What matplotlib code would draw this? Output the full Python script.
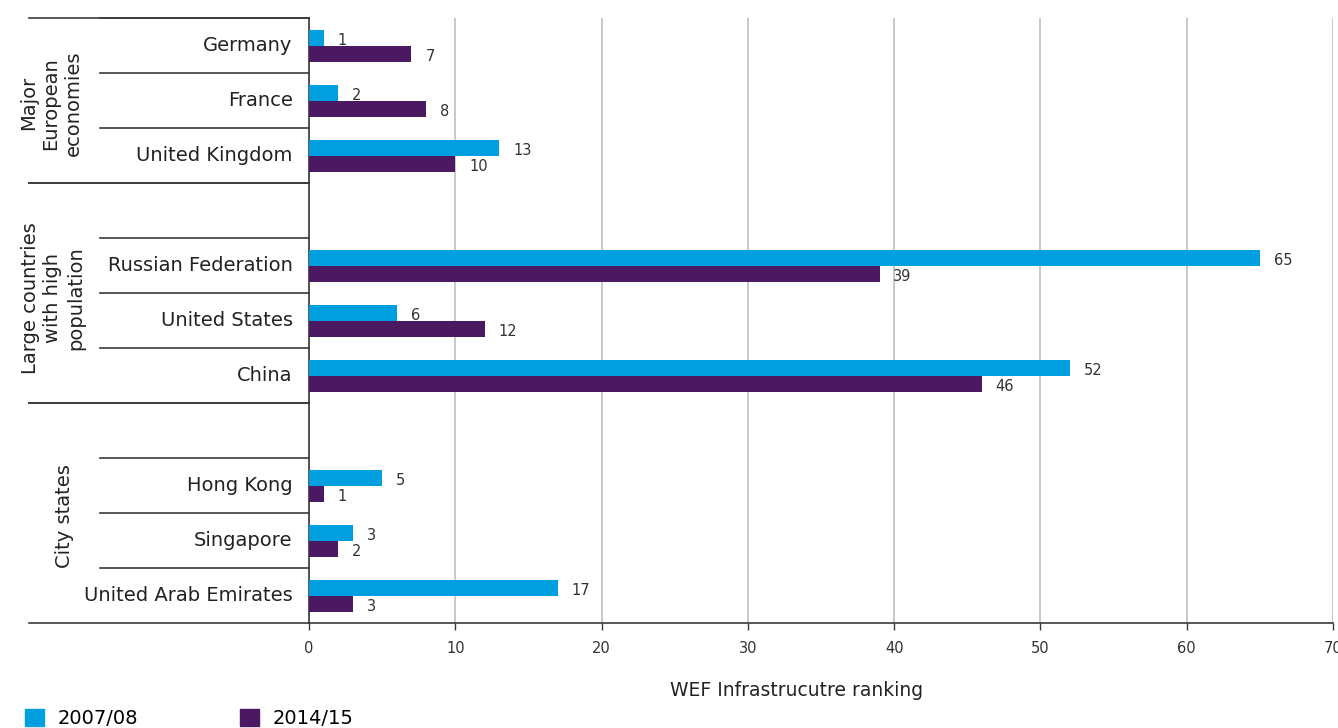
import matplotlib
matplotlib.use("Agg")
import matplotlib.pyplot as plt
import matplotlib.transforms as mtransforms
from matplotlib.patches import Patch

plt.rcParams['font.family'] = ['DejaVu Sans']

# rankings (lower is better)
countries = ["Germany", "France", "United Kingdom",
             "Russian Federation", "United States", "China",
             "Hong Kong", "Singapore", "United Arab Emirates"]
rank_2007 = [1, 2, 13, 65, 6, 52, 5, 3, 17]
rank_2014 = [7, 8, 10, 39, 12, 46, 1, 2, 3]
groups = ["Major\nEuropean\neconomies", "Large countries\nwith high\npopulation", "City states"]
group_sizes = [3, 3, 3]
series_names = ["2007/08", "2014/15"]

blue = "#009fe0"
purple = "#4b1862"
line_col = "#3a3a3a"
grid_col = "#c4c4c4"

fig = plt.figure(figsize=(13.38, 7.28), dpi=100)
ax = fig.add_axes([309 / 1338, 105 / 728, 1024 / 1338, 605 / 728])

# slot layout: each group gets an empty slot before it (except the first)
slots = []
group_bounds = []
pos = 0
for gi, n in enumerate(group_sizes):
    if gi > 0:
        pos += 1
    start = pos
    for k in range(n):
        slots.append(pos)
        pos += 1
    group_bounds.append((start - (1 if gi > 0 else 0), pos))
n_slots = pos

bh = 0.29
yb = [s - 0.135 for s in slots]
yp = [s + 0.155 for s in slots]
ax.barh(yb, rank_2007, height=bh, color=blue, zorder=3)
ax.barh(yp, rank_2014, height=bh, color=purple, zorder=3)

for y, v in zip(yb, rank_2007):
    ax.annotate(str(v), (v, y), xytext=(10, -2), textcoords="offset points",
                va="center", ha="left", fontsize=10.5, color="#333333")
for y, v in zip(yp, rank_2014):
    ax.annotate(str(v), (v, y), xytext=(10, -2), textcoords="offset points",
                va="center", ha="left", fontsize=10.5, color="#333333")

ax.set_xlim(0, 70)
ax.set_ylim(n_slots - 0.5, -0.5)
ax.set_xticks(range(0, 71, 10))
ax.set_yticks([])
ax.tick_params(axis="x", length=5, width=1, color=line_col, labelsize=10.5,
               labelcolor="#333333", pad=8)
ax.xaxis.grid(True, color=grid_col, linewidth=1.3, zorder=0)
ax.set_axisbelow(True)
for side in ["top", "right"]:
    ax.spines[side].set_visible(False)
ax.spines["left"].set_color(line_col)
ax.spines["bottom"].set_color(line_col)
ax.spines["left"].set_linewidth(1.2)
ax.spines["bottom"].set_linewidth(1.2)

# category separators and labels on the left
trans = mtransforms.blended_transform_factory(ax.transAxes, ax.transData)
x_inner = (100 - 309) / 1024
x_outer = (29 - 309) / 1024
for s, name in zip(slots, countries):
    ax.text(-0.016, s, name, transform=trans, ha="right", va="center",
            fontsize=14, color="#222222")
    ax.plot([x_inner, 0], [s - 0.5, s - 0.5], transform=trans, color=line_col,
            lw=1.2, clip_on=False)

group_x = [51, 53, 65]
group_dy = [0.05, 0.1, 0.05]
for (g0, g1), label, gx, dy in zip(group_bounds, groups, group_x, group_dy):
    ax.plot([x_outer, 0], [g0 - 0.5, g0 - 0.5], transform=trans, color=line_col,
            lw=1.2, clip_on=False)
    ax.plot([x_outer, 0], [g1 - 0.5, g1 - 0.5], transform=trans, color=line_col,
            lw=1.2, clip_on=False)
    ax.text((gx - 309) / 1024, (g0 + g1 - 1) / 2 + dy, label, transform=trans,
            rotation=90, ha="center", va="center", multialignment="center",
            fontsize=14, linespacing=1.25, color="#222222")

fig.text(797 / 1338, 1 - 690 / 728, "WEF Infrastrucutre ranking",
         ha="center", va="center", fontsize=13.5, color="#222222")

handles = [Patch(color=blue), Patch(color=purple)]
fig.legend(handles, series_names, loc="lower left", bbox_to_anchor=(25 / 1338, 0.0),
           ncol=2, frameon=False, fontsize=14, handlelength=1.0, handleheight=1.0,
           handletextpad=0.7, columnspacing=5.2, borderpad=0, borderaxespad=0)

fig.savefig("out.png", dpi=100)
